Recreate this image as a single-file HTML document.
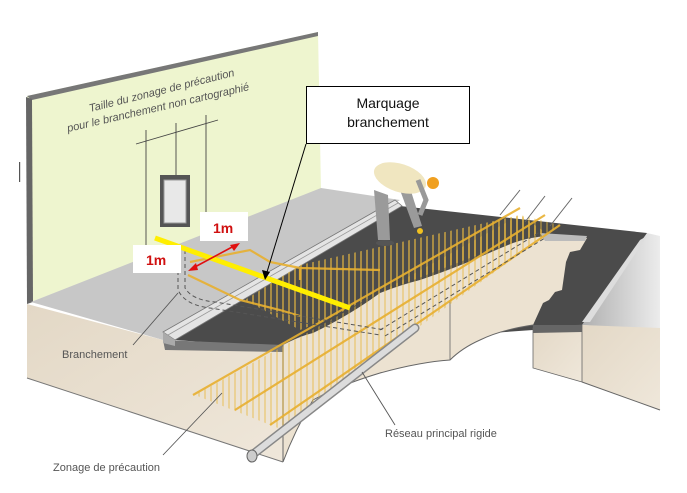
<!DOCTYPE html>
<html><head><meta charset="utf-8"><style>
html,body{margin:0;padding:0;background:#fff;}
svg{display:block;}
text{font-family:"Liberation Sans",sans-serif;}
</style></head><body>
<svg width="687" height="493" viewBox="0 0 687 493" xmlns="http://www.w3.org/2000/svg">
<defs>
<pattern id="hatch" width="6" height="10" patternUnits="userSpaceOnUse">
<line x1="1" y1="0" x2="1" y2="10" stroke="#e8b840" stroke-width="1.6" opacity="0.75"/>
</pattern>
<linearGradient id="beige" x1="0" y1="0" x2="1" y2="1">
<stop offset="0" stop-color="#e3d8c6"/><stop offset="1" stop-color="#efe7da"/>
</linearGradient>
<linearGradient id="rg" x1="0" y1="0" x2="1" y2="0">
<stop offset="0" stop-color="#b0b0b0"/><stop offset="1" stop-color="#ececec"/>
</linearGradient>
</defs>
<!-- wall -->
<polygon points="27,96 318,32 321,190 31,302" fill="#eef5cf"/>
<polygon points="27,96 318,32 318,36 32,100" fill="#777"/>
<polygon points="26,97 32,99 33,302 27,304" fill="#666"/>
<!-- floor gray sidewalk -->
<polygon points="31,302 321,188 400,200 175,340 163,340" fill="#c7c7c7"/>
<!-- right sidewalk -->
<polygon points="647,233 660,236 660,330 582,325" fill="url(#rg)"/>
<polygon points="582,325 660,328 660,410 582,382" fill="url(#beige)"/>
<!-- road dark -->
<polygon points="175,340 400,206 647,233 582,325 533,325 533,330 283,348" fill="#4b4b4b"/>
<!-- right road inner lip -->
<polygon points="640,240 647,236 590,322 582,322" fill="#ddd"/>
<!-- right block front -->
<polygon points="533,328 582,325 582,382 533,368" fill="url(#beige)" stroke="#666" stroke-width="0.8"/>
<polyline points="582,382 660,410" stroke="#666" fill="none"/>
<polygon points="533,325 582,325 582,332 533,333" fill="#666"/>
<!-- trench beige -->
<path d="M283,345 Q300,336 313,333 Q350,315 380,293 Q400,285 420,280 Q455,268 480,257 Q500,248 513,243 Q530,237 547,236 L587,238 L580,250 L570,252 L566,262 L562,290 L555,292 L549,300 L543,303 L533,325 Q500,330 480,340 Q462,348 450,360 Q420,362 380,373 Q340,385 313,400 Q295,430 283,462 Z" fill="#ece2d1"/>
<path d="M283,462 Q295,430 313,400 Q340,385 380,373 Q420,362 450,360 Q462,348 480,340 Q500,330 533,325" fill="none" stroke="#666" stroke-width="1"/>
<line x1="450" y1="300" x2="450" y2="360" stroke="#666" stroke-width="0.8"/>
<polygon points="540,233 587,236 585,241 545,241" fill="#bbb"/>
<!-- front beige ground -->
<polygon points="27,304 163,340 283,348 283,462 27,378" fill="url(#beige)"/>
<line x1="27" y1="378" x2="283" y2="462" stroke="#777" stroke-width="1"/>
<line x1="283" y1="345" x2="283" y2="462" stroke="#666" stroke-width="1"/>
<!-- curb -->
<polygon points="163,332 395,200 402,206 175,340" fill="#e4e4e4" stroke="#777" stroke-width="0.8"/>
<line x1="168" y1="335" x2="398" y2="203" stroke="#999" stroke-width="0.8"/>
<polygon points="163,340 283,345 283,352 165,350" fill="#777"/>
<polygon points="163,332 175,340 175,346 163,343" fill="#aaa"/>
<!-- hatched zones -->
<polygon points="245,300 300,330 330,318 380,293 470,258 545,232 520,215 300,265" fill="url(#hatch)"/>
<polygon points="195,395 283,430 290,420 560,225 520,215" fill="url(#hatch)" opacity="0.7"/>
<!-- orange lines -->
<g stroke="#e8b030" stroke-width="2.2" fill="none" opacity="0.9">
<line x1="193" y1="395" x2="520" y2="208"/>
<line x1="235" y1="410" x2="545" y2="215"/>
<line x1="270" y1="425" x2="560" y2="225"/>
<polyline points="190,262 250,250 270,262 300,268 380,270"/>
<polyline points="188,275 240,300 280,310 300,316"/>
<line x1="300" y1="268" x2="300" y2="280"/>
</g>
<!-- dashed lines -->
<g stroke="#555" stroke-width="1" stroke-dasharray="4,3" fill="none">
<path d="M178,250 L178,290 Q185,305 210,308 L380,335"/>
<path d="M185,250 L185,288 Q192,300 215,302 L385,330"/>
<line x1="380" y1="330" x2="540" y2="232"/>
<line x1="385" y1="336" x2="545" y2="238"/>
</g>
<!-- thin gray lines top right -->
<g stroke="#666" stroke-width="1">
<line x1="500" y1="215" x2="520" y2="190"/>
<line x1="525" y1="222" x2="545" y2="196"/>
<line x1="550" y1="226" x2="572" y2="198"/>
</g>
<!-- pipe -->
<line x1="252" y1="455" x2="415" y2="328" stroke="#888" stroke-width="9" stroke-linecap="round"/>
<line x1="252" y1="455" x2="415" y2="328" stroke="#dcdcdc" stroke-width="6" stroke-linecap="round"/>
<ellipse cx="252" cy="456" rx="5" ry="6" fill="#ccc" stroke="#666"/>
<!-- yellow marking -->
<line x1="155" y1="238" x2="350" y2="308" stroke="#ffee00" stroke-width="5"/>
<!-- worker -->
<g>
<path d="M374,190 L378,240 L390,240 L388,195 Z" fill="#9a9a9a"/>
<path d="M400,190 L414,228 L422,226 L410,188 Z" fill="#9a9a9a"/>
<ellipse cx="400" cy="178" rx="27" ry="14" fill="#f0e6c0" transform="rotate(18 400 178)"/>
<path d="M418,180 L426,200 L420,215" stroke="#999" stroke-width="5" fill="none"/>
<circle cx="433" cy="183" r="6" fill="#f0a020"/>
<ellipse cx="385" cy="243" rx="9" ry="3" fill="#555"/>
<circle cx="420" cy="231" r="3" fill="#f0c020"/>
</g>
<!-- wall annotations -->
<g stroke="#444" stroke-width="0.9">
<line x1="146" y1="130" x2="146" y2="255"/>
<line x1="176" y1="123" x2="176" y2="215"/>
<line x1="206" y1="115" x2="206" y2="235"/>
<line x1="136" y1="144" x2="218" y2="120"/>
</g>
<rect x="160" y="175" width="30" height="52" fill="#555"/>
<rect x="164" y="180" width="22" height="43" fill="#e8e8e8" stroke="#999"/>
<text x="90" y="112" transform="rotate(-14 90 112)" fill="#555" font-style="italic" font-size="11" style="font-style:italic">Taille du zonage de précaution</text>
<text x="68" y="132" transform="rotate(-13 68 132)" fill="#555" font-size="11" style="font-style:italic">pour le branchement non cartographié</text>
<rect x="19" y="162" width="1.2" height="20" fill="#555"/>
<!-- leaders -->
<g stroke="#555" stroke-width="0.9">
<line x1="178" y1="293" x2="133" y2="345"/>
<line x1="222" y1="393" x2="163" y2="455"/>
<line x1="362" y1="372" x2="395" y2="425"/>
</g>
<g fill="#555" font-size="11">
<text x="62" y="358">Branchement</text>
<text x="53" y="471">Zonage de précaution</text>
<text x="385" y="437">Réseau principal rigide</text>
</g>
<!-- 1m labels -->
<rect x="200" y="212" width="48" height="29" fill="#fff"/>
<rect x="133" y="245" width="48" height="28" fill="#fff"/>
<g fill="#d01010" font-weight="bold" font-size="14">
<text x="213" y="233">1m</text>
<text x="146" y="265">1m</text>
</g>
<line x1="193" y1="268" x2="234" y2="246" stroke="#e01010" stroke-width="1.6"/>
<polygon points="188,271 196,263 198,270" fill="#e01010"/>
<polygon points="240,243 230,245 234,251" fill="#e01010"/>
<!-- callout -->
<rect x="306.5" y="86.5" width="163" height="57" fill="#fff" stroke="#000" stroke-width="1"/>
<text x="388" y="108" text-anchor="middle" font-size="14" fill="#111">Marquage</text>
<text x="388" y="127" text-anchor="middle" font-size="14" fill="#111">branchement</text>
<line x1="306" y1="144" x2="267" y2="272" stroke="#000" stroke-width="1"/>
<polygon points="265,280 262,270 270,272" fill="#000"/>
</svg>
</body></html>
